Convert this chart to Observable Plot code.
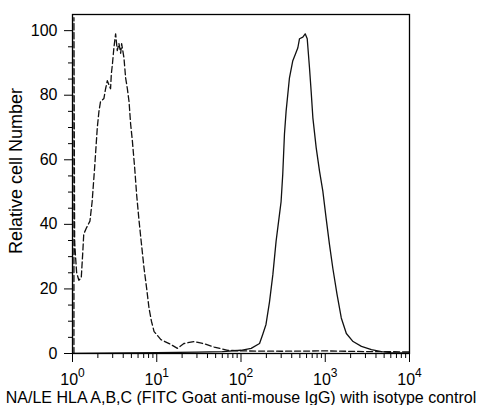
<!DOCTYPE html>
<html><head><meta charset="utf-8">
<script src="https://cdn.jsdelivr.net/npm/d3@7"></script>
<script src="https://cdn.jsdelivr.net/npm/@observablehq/plot@0.6"></script>
<style>html,body{margin:0;padding:0;background:#fff;}</style>
</head><body><div id="chart"></div>
<script>
// Isotype control (dashed)
const isotypeX = [1.04, 1.04, 1.06, 1.09, 1.12, 1.19, 1.27, 1.32, 1.36, 1.47, 1.61, 1.71, 1.83, 1.97, 2.06, 2.15, 2.36, 2.47, 2.59, 2.83, 2.89, 2.98, 3.1, 3.25, 3.4, 3.56, 3.73, 3.83, 4.08, 4.27, 4.48, 4.69, 4.9, 5.13, 5.47, 5.78, 6.17, 6.58, 7.06, 7.6, 8.1, 8.65, 9.3, 11.2, 14.7, 17.6, 21, 27.6, 36.5, 48, 69.5, 100, 300, 1000, 3000, 10000];
const isotypeY = [0, 104, 34.8, 29.5, 25, 22.7, 23.4, 30.7, 37, 39, 41, 47, 57.5, 70, 75, 78, 79, 82, 84.5, 82, 86.6, 89.7, 94.7, 99, 93.8, 96, 93, 96, 91.6, 85.4, 82, 78, 71, 66, 57.5, 49, 41, 34, 26.5, 20, 14, 10, 6.8, 4.3, 2.8, 1.6, 3.1, 3.7, 3, 2, 1, 0.8, 0.7, 0.8, 0.6, 0.5];
// NA/LE HLA A,B,C (solid)
const hlaX = [1, 10, 30, 60, 100, 132, 166, 181, 198, 218, 239, 261, 286, 299, 313, 328, 343, 376, 412, 443, 473, 495, 542, 578, 611, 650, 681, 713, 781, 855, 936, 1023, 1122, 1230, 1380, 1550, 1780, 2140, 2690, 3530, 4640, 6000, 10000];
const hlaY = [0, 0.3, 0.4, 0.6, 1, 1.6, 3.1, 5.9, 9, 16, 24.5, 34.8, 43, 47, 55.5, 68, 75, 85.4, 90.7, 92.8, 94.7, 97.5, 98, 99, 97.5, 88.5, 81, 73, 63.7, 56.5, 50.3, 42, 33.8, 26.4, 18.3, 11, 6.2, 3.7, 2.2, 1.2, 0.6, 0.3, 0.2];

const yTicks = [0, 20, 40, 60, 80, 100];
const yMinorTicks = [5, 10, 15, 25, 30, 35, 45, 50, 55, 65, 70, 75, 85, 90, 95];
const xTicks = [1, 10, 100, 1000, 10000];
const xMinorTicks = [2, 3, 4, 5, 6, 7, 8, 9, 20, 30, 40, 50, 60, 70, 80, 90, 200, 300, 400, 500, 600, 700, 800, 900, 2000, 3000, 4000, 5000, 6000, 7000, 8000, 9000];
const xTitle = "NA/LE HLA A,B,C (FITC Goat anti-mouse IgG) with isotype control";
const yTitle = "Relative cell Number";

const isotype = isotypeX.map((x, i) => ({x, y: isotypeY[i]}));
const hla = hlaX.map((x, i) => ({x, y: hlaY[i]}));

const chart = Plot.plot({
  width: 479, height: 405,
  marginLeft: 72, marginRight: 70, marginTop: 14, marginBottom: 52,
  style: {fontFamily: "'Liberation Sans', Arial, sans-serif", fontSize: "16px", color: "#000", background: "#fff"},
  x: {type: "log", domain: [1, 10000]},
  y: {domain: [0, 105]},
  marks: [
    Plot.axisY(yMinorTicks, {tickSize: 4, fill: "none", tickFormat: () => "", label: null}),
    Plot.axisY(yTicks, {tickSize: 8, tickPadding: 7, fontSize: 16, label: null}),
    Plot.axisX(xMinorTicks, {tickSize: 5, fill: "none", tickFormat: () => "", label: null}),
    Plot.axisX(xTicks, {tickSize: 9, tickPadding: 11, fontSize: 16, tickFormat: d => `10^${Math.round(Math.log10(d))}`, label: null}),
    Plot.line(isotype, {x: "x", y: "y", stroke: "#111", strokeWidth: 1.3, strokeDasharray: "6,3", clip: true}),
    Plot.line(hla, {x: "x", y: "y", stroke: "#111", strokeWidth: 1.3, clip: true}),
    Plot.frame({stroke: "#000", strokeWidth: 1.3}),
    Plot.text([yTitle], {frameAnchor: "left", textAnchor: "middle", dx: -56, dy: -13, rotate: -90, fontSize: 18, fill: "#000"}),
    Plot.text([xTitle], {frameAnchor: "bottom", textAnchor: "middle", lineAnchor: "middle", dy: 44, fontSize: 16, fill: "#000"})
  ]
});

// superscript exponents on the x tick labels
chart.querySelectorAll("text").forEach(t => {
  const m = /^10\^(\d)$/.exec(t.textContent);
  if (m) {
    t.textContent = "";
    const base = document.createElementNS("http://www.w3.org/2000/svg", "tspan");
    base.textContent = "10";
    const sup = document.createElementNS("http://www.w3.org/2000/svg", "tspan");
    sup.textContent = m[1];
    sup.setAttribute("dy", "-8");
    sup.setAttribute("font-size", "12");
    t.appendChild(base);
    t.appendChild(sup);
  }
});

document.getElementById("chart").appendChild(chart);
</script>
</body></html>
